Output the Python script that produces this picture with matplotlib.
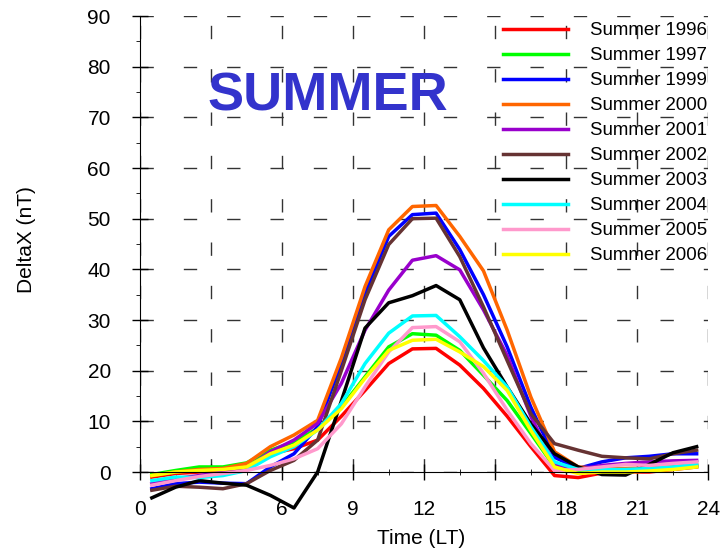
import matplotlib
matplotlib.use('Agg')
import matplotlib.pyplot as plt
from matplotlib.ticker import MultipleLocator

plt.rcParams['font.family'] = ['Liberation Sans', 'DejaVu Sans']

# heures locales (milieu de chaque heure)
heures = [0.5, 1.5, 2.5, 3.5, 4.5, 5.5, 6.5, 7.5, 8.5, 9.5, 10.5, 11.5,
          12.5, 13.5, 14.5, 15.5, 16.5, 17.5, 18.5, 19.5, 20.5, 21.5, 22.5, 23.5]

annees = ['Summer 1996', 'Summer 1997', 'Summer 1999', 'Summer 2000', 'Summer 2001',
          'Summer 2002', 'Summer 2003', 'Summer 2004', 'Summer 2005', 'Summer 2006']
couleurs = ['#FF0000', '#00FF00', '#0000FF', '#FF6600', '#9900CC',
            '#663333', '#000000', '#00FFFF', '#FF99CC', '#FFFF00']

s1996 = [-1.0, -0.3, 0.0, 0.3, 1.0, 3.6, 4.6, 6.3, 11.0, 16.1, 21.4, 24.3,
         24.4, 21.1, 16.5, 11.0, 5.0, -0.7, -1.1, -0.2, 0.0, 0.0, 0.5, 1.0]
s1997 = [-0.5, 0.3, 1.0, 1.0, 1.8, 4.3, 5.9, 8.6, 12.8, 18.8, 24.7, 27.3,
         27.0, 24.0, 19.1, 14.1, 7.6, 1.0, 0.0, 0.2, 0.2, 0.5, 0.8, 1.2]
s1999 = [-3.3, -2.3, -2.0, -2.2, -2.3, 1.0, 3.6, 8.9, 21.5, 35.3, 46.5, 50.8,
         51.1, 43.9, 35.0, 24.7, 12.8, 2.9, 0.7, 2.0, 2.8, 3.1, 3.6, 3.6]
s2000 = [-0.7, 0.0, 0.5, 0.7, 1.7, 5.0, 7.3, 10.2, 22.5, 36.6, 47.8, 52.4,
         52.6, 46.5, 39.7, 28.0, 14.8, 4.0, 1.0, 0.7, 0.7, 0.8, 1.0, 1.5]
s2001 = [-2.3, -1.3, -0.7, 0.0, 0.7, 4.0, 6.3, 9.6, 17.5, 28.0, 35.9, 41.8,
         42.7, 39.9, 32.0, 23.0, 11.0, 1.5, 0.5, 1.3, 1.7, 2.0, 2.2, 2.3]
s2002 = [-3.6, -2.8, -3.0, -3.3, -2.3, 0.3, 2.3, 6.3, 20.0, 34.0, 44.9, 50.0,
         50.1, 42.5, 32.6, 22.0, 11.5, 5.6, 4.3, 3.1, 2.8, 2.6, 3.6, 4.3]
s2003 = [-5.1, -3.0, -1.7, -2.2, -2.6, -4.6, -7.1, 0.0, 14.0, 28.4, 33.4, 34.8,
         36.8, 34.0, 24.5, 16.8, 9.5, 3.6, 1.0, -0.5, -0.6, 1.5, 3.8, 5.0]
s2004 = [-1.7, -1.0, -1.1, -0.7, 0.3, 3.0, 5.0, 8.3, 13.5, 21.4, 27.4, 30.8,
         30.9, 26.7, 22.0, 16.8, 8.9, 2.0, 0.5, 0.5, 0.5, 0.7, 1.0, 1.5]
s2005 = [-2.6, -1.7, -0.9, -0.3, 0.3, 1.3, 2.6, 4.6, 9.5, 16.8, 23.7, 28.5,
         28.7, 25.7, 19.5, 12.2, 5.6, 0.3, 0.5, 1.0, 1.5, 1.3, 1.7, 2.0]
s2006 = [-0.7, 0.0, 0.3, 0.5, 1.0, 3.6, 5.3, 8.3, 12.5, 18.5, 24.0, 26.0,
         26.2, 23.7, 20.8, 16.1, 8.2, 1.0, -0.3, 0.0, 0.0, 0.2, 0.5, 1.0]

series = [s1996, s1997, s1999, s2000, s2001, s2002, s2003, s2004, s2005, s2006]

fig = plt.figure(figsize=(7.22, 5.54), dpi=100)
# l'axe du bas est a y=0, les courbes passent en dessous (clip_on=False)
ax = fig.add_axes([0.1939, 0.148, 0.7874, 0.8231])

for nom, c, s in zip(annees, couleurs, series):
    ax.plot(heures, s, color=c, linewidth=2.5, label=nom, clip_on=False)

ax.set_xlim(0, 24)
ax.set_ylim(0, 90)
ax.xaxis.set_major_locator(MultipleLocator(3))
ax.xaxis.set_minor_locator(MultipleLocator(1.5))
ax.yaxis.set_major_locator(MultipleLocator(10))
ax.yaxis.set_minor_locator(MultipleLocator(5))

ax.spines['top'].set_visible(False)
ax.spines['right'].set_visible(False)
ax.tick_params(axis='both', which='major', direction='inout', length=11, width=1, labelsize=15)
ax.tick_params(axis='y', which='major', pad=15.5)
ax.tick_params(axis='x', which='major', pad=15)
ax.tick_params(axis='y', which='minor', direction='out', length=3)
ax.tick_params(axis='x', which='minor', direction='inout', length=5)

ax.grid(True, which='major', color='#333333', linewidth=1, linestyle=(0, (9.6, 21.6)))

ax.set_xlabel('Time (LT)', fontsize=15, va='baseline')
ax.xaxis.set_label_coords(0.583, 0.018, transform=fig.transFigure)
ax.set_ylabel('DeltaX (nT)', fontsize=15, va='baseline')
ax.yaxis.set_label_coords(0.0439, 0.567, transform=fig.transFigure)

fig.text(0.4547, 0.8002, 'SUMMER', fontsize=39, fontweight='bold', color='#3333CC',
         ha='center', va='baseline')

ax.legend(loc='upper left', bbox_to_anchor=(0.6967, 0.96), bbox_transform=fig.transFigure,
          frameon=False, fontsize=13.4, handlelength=3.5, handletextpad=1.2,
          labelspacing=0.43, borderpad=0, borderaxespad=0)

fig.savefig('out.png', dpi=100)
